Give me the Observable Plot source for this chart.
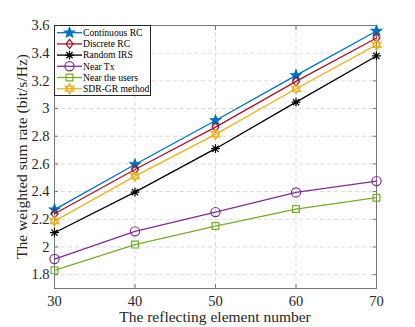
<!DOCTYPE html>
<html>
<head>
<meta charset="utf-8">
<script src="https://cdn.jsdelivr.net/npm/d3@7"></script>
<script src="https://cdn.jsdelivr.net/npm/@observablehq/plot@0.6"></script>
<style>
  html, body { margin: 0; padding: 0; background: #fff; }
  #chart { width: 415px; height: 327px; }
  #chart svg, #chart svg text { font-family: "Liberation Serif", "Times New Roman", serif !important; }
</style>
</head>
<body>
<div id="chart"></div>
<script>
// ---- data ----
const elementNumbers = [30, 40, 50, 60, 70];
const seriesNames = ["Continuous RC", "Discrete RC", "Random IRS", "Near Tx", "Near the users", "SDR-GR method"];
const continuousRC = [2.27, 2.596, 2.914, 3.24, 3.56];
const discreteRC   = [2.24, 2.56, 2.866, 3.196, 3.51];
const randomIRS    = [2.103, 2.396, 2.71, 3.046, 3.38];
const nearTx       = [1.913, 2.113, 2.252, 2.394, 2.476];
const nearUsers    = [1.831, 2.017, 2.151, 2.274, 2.356];
const sdrGR        = [2.187, 2.512, 2.813, 3.143, 3.46];
const yTicks = [1.8, 2, 2.2, 2.4, 2.6, 2.8, 3, 3.2, 3.4, 3.6];
const xTicks = [30, 40, 50, 60, 70];

const seriesValues = [continuousRC, discreteRC, randomIRS, nearTx, nearUsers, sdrGR];
const colors = ["#0072BD", "#A2142F", "#000000", "#7E2F8E", "#77AC30", "#EDB120"];

// ---- custom marker symbols (MATLAB style) ----
const rOf = size => Math.sqrt(size / Math.PI);
const symDiamond = { draw(c, size) { const r = rOf(size); const w = r * 0.75;
  c.moveTo(0, -r); c.lineTo(w, 0); c.lineTo(0, r); c.lineTo(-w, 0); c.closePath(); } };
const symAsterisk = { draw(c, size) { const r = rOf(size); const d = r * 0.707;
  c.moveTo(-r, 0); c.lineTo(r, 0); c.moveTo(0, -r); c.lineTo(0, r);
  c.moveTo(-d, -d); c.lineTo(d, d); c.moveTo(-d, d); c.lineTo(d, -d); } };
const symSquare = { draw(c, size) { const r = rOf(size); c.rect(-r, -r, 2 * r, 2 * r); } };
const symCircle = { draw(c, size) { const r = rOf(size); c.moveTo(r, 0); c.arc(0, 0, r, 0, 2 * Math.PI); } };
const symStar = { draw(c, size) { const R = rOf(size) * 1.15, ri = R * 0.42;
  for (let k = 0; k < 10; k++) { const a = -Math.PI / 2 + k * Math.PI / 5; const rr = k % 2 ? ri : R;
    const x = rr * Math.cos(a), y = rr * Math.sin(a); k ? c.lineTo(x, y) : c.moveTo(x, y); } c.closePath(); } };
const symHexagram = { draw(c, size) { const R = rOf(size) * 1.1;
  for (const off of [-Math.PI / 2, Math.PI / 2]) {
    for (let k = 0; k < 3; k++) { const a = off + k * 2 * Math.PI / 3; const x = R * Math.cos(a), y = R * Math.sin(a);
      k ? c.lineTo(x, y) : c.moveTo(x, y); } c.closePath(); } } };

const symbols = [symStar, symDiamond, symAsterisk, symCircle, symSquare, symHexagram];
const radii = [4.6, 4.6, 4.4, 4.6, 3.4, 4.6];
const filled = [true, false, false, false, false, false];

const rows = [];
seriesNames.forEach((s, i) => elementNumbers.forEach((x, j) => rows.push({series: s, idx: i, x, y: seriesValues[i][j]})));

const FONT = "'Liberation Serif', 'Times New Roman', serif";
const fmt = d => String(+d.toFixed(1));
const marks = [
  Plot.gridX(xTicks, {stroke: "#d9d9d9", strokeOpacity: 1, strokeDasharray: "4,3"}),
  Plot.gridY(yTicks, {stroke: "#d9d9d9", strokeOpacity: 1, strokeDasharray: "4,3"}),
  Plot.axisX(xTicks, {tickSize: 0, tickPadding: 7, tickFormat: fmt, fontSize: 14.5, fontFamily: FONT, fill: "#262626", label: null}),
  Plot.axisY(yTicks, {tickSize: 0, tickPadding: 5, tickFormat: fmt, fontSize: 14.5, fontFamily: FONT, fill: "#262626", label: null}),
  Plot.axisX(xTicks, {anchor: "bottom", tickSize: -4, tickFormat: () => "", label: null, stroke: "#777"}),
  Plot.axisX(xTicks, {anchor: "top", tickSize: -4, tickFormat: () => "", label: null, stroke: "#777"}),
  Plot.axisY(yTicks, {anchor: "left", tickSize: -4, tickFormat: () => "", label: null, stroke: "#777"}),
  Plot.axisY(yTicks, {anchor: "right", tickSize: -4, tickFormat: () => "", label: null, stroke: "#777"}),
  Plot.frame({stroke: "#777", strokeWidth: 1})
];
seriesNames.forEach((s, i) => {
  const data = rows.filter(d => d.idx === i);
  marks.push(Plot.line(data, {x: "x", y: "y", stroke: colors[i], strokeWidth: 1.3}));
  marks.push(Plot.dot(data, {x: "x", y: "y", symbol: () => symbols[i], r: radii[i],
    stroke: colors[i], strokeWidth: 1.2, fill: filled[i] ? colors[i] : "none"}));
});

const chart = Plot.plot({
  width: 415, height: 327,
  marginLeft: 54, marginRight: 39, marginTop: 25, marginBottom: 39,
  x: {domain: [30, 70]},
  y: {domain: [1.7, 3.6]},
  style: {fontFamily: FONT, background: "#fff"},
  marks
});
document.getElementById("chart").appendChild(chart);

// ---- axis labels and legend (drawn into the same SVG) ----
const ns = "http://www.w3.org/2000/svg";
const svg = d3.select(chart);
svg.append("text").attr("x", 215).attr("y", 322).attr("text-anchor", "middle")
  .attr("font-size", 15.5).attr("fill", "#262626").text("The reflecting element number");
svg.append("text").attr("transform", "translate(27,156.5) rotate(-90)").attr("text-anchor", "middle")
  .attr("font-size", 15.5).attr("fill", "#262626").text("The weighted sum rate (bit/s/Hz)");

const lg = svg.append("g").attr("transform", "translate(54,25)");
lg.append("rect").attr("x", 0.5).attr("y", 0.5).attr("width", 96).attr("height", 70)
  .style("fill", "#fff").style("stroke", "#262626").style("stroke-width", "1px");
seriesNames.forEach((s, i) => {
  const y = 7.7 + i * 11.2;
  lg.append("line").attr("x1", 3).attr("x2", 28).attr("y1", y).attr("y2", y)
    .style("stroke", colors[i]).style("stroke-width", "1.3px");
  lg.append("path").attr("transform", `translate(15.5,${y})`)
    .attr("d", d3.symbol(symbols[i], radii[i] * radii[i] * Math.PI)())
    .style("stroke", colors[i]).style("stroke-width", "1.2px").style("fill", filled[i] ? colors[i] : "none");
  lg.append("text").attr("x", 29).attr("y", y).attr("dy", "0.34em").attr("text-anchor", "start")
    .attr("font-size", 9.6).style("fill", "#000").text(s);
});
</script>
</body>
</html>
